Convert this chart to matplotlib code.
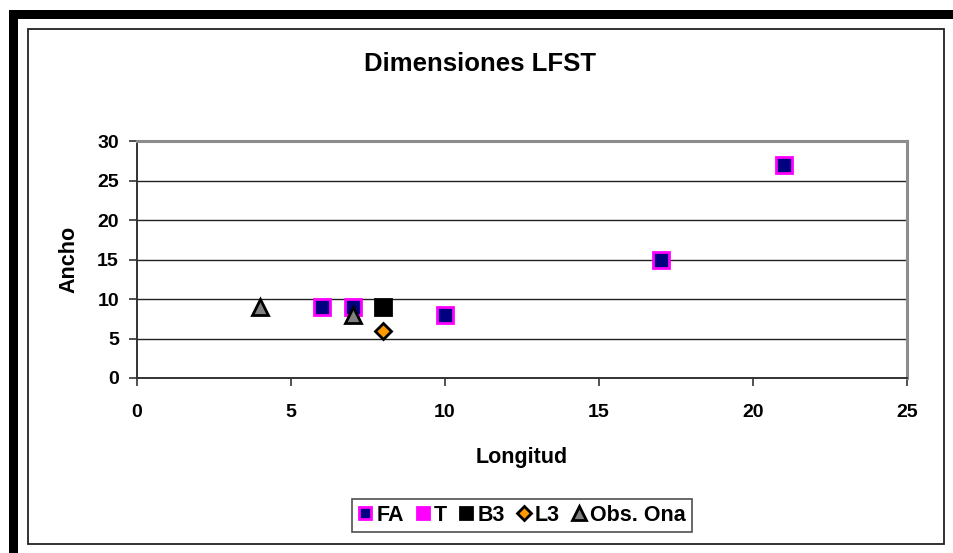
import matplotlib
matplotlib.use("Agg")
import matplotlib.pyplot as plt
from matplotlib.patches import Rectangle

plt.rcParams['font.family'] = ['Liberation Sans', 'DejaVu Sans']
plt.rcParams['font.weight'] = 'bold'

title = "Dimensiones LFST"
xlabel = "Longitud"
ylabel = "Ancho"

fa_x = [6, 7, 10, 17, 21]
fa_y = [9, 9, 8, 15, 27]
t_x = []
t_y = []
b3_x = [8]
b3_y = [9]
l3_x = [8]
l3_y = [6]
ona_x = [4, 7]
ona_y = [9, 8]

xticks = [0, 5, 10, 15, 20, 25]
yticks = [0, 5, 10, 15, 20, 25, 30]

W, H = 954, 553
fig = plt.figure(figsize=(W / 100, H / 100), dpi=100)
fig.patch.set_facecolor('white')

# outer decorations
fig.add_artist(Rectangle((9 / W, 1 - 19 / H), 1 - 9 / W, 9 / H, transform=fig.transFigure,
                         facecolor='black', edgecolor='none', zorder=0))
fig.add_artist(Rectangle((9 / W, 0), 9 / W, 1 - 10 / H, transform=fig.transFigure,
                         facecolor='black', edgecolor='none', zorder=0))
fig.add_artist(Rectangle((28.5 / W, 1 - 543.5 / H), (944 - 28.5) / W, (543.5 - 28.5) / H,
                         transform=fig.transFigure, facecolor='white', edgecolor='#222222',
                         linewidth=1.3, zorder=0))

ax = fig.add_axes([137 / W, 1 - 378 / H, (907 - 137) / W, (378 - 141) / H])
ax.set_xlim(0, 25)
ax.set_ylim(0, 30)
ax.set_xticks(xticks)
ax.set_yticks(yticks)
ax.tick_params(axis='both', direction='out', length=6, width=1.2, color='#333333',
               labelsize=14, pad=7)
ax.tick_params(axis='x', pad=13)
for lbl in ax.get_xticklabels() + ax.get_yticklabels():
    lbl.set_fontweight('bold')
ax.yaxis.grid(True, color='#222222', linewidth=1.0)
ax.set_axisbelow(True)
for s in ['top', 'right']:
    ax.spines[s].set_color('#8c8c8c')
    ax.spines[s].set_linewidth(2.2)
for s in ['left', 'bottom']:
    ax.spines[s].set_color('#333333')
    ax.spines[s].set_linewidth(1.4)

ax.plot(fa_x, fa_y, linestyle='none', marker='s', markersize=11, markerfacecolor='#000080',
        markeredgecolor='#FF00FF', markeredgewidth=2, label='FA', clip_on=False, zorder=3)
ax.plot(t_x, t_y, linestyle='none', marker='s', markersize=11, markerfacecolor='#FF00FF',
        markeredgecolor='#FF00FF', markeredgewidth=2, label='T', zorder=3)
ax.plot(b3_x, b3_y, linestyle='none', marker='s', markersize=11, markerfacecolor='black',
        markeredgecolor='black', markeredgewidth=2, label='B3', zorder=3)
ax.plot(l3_x, l3_y, linestyle='none', marker='D', markersize=8, markerfacecolor='#FF9900',
        markeredgecolor='black', markeredgewidth=2, label='L3', zorder=3)
ax.plot(ona_x, ona_y, linestyle='none', marker='^', markersize=12, markerfacecolor='#808080',
        markeredgecolor='black', markeredgewidth=2, label='Obs. Ona', zorder=3)

fig.text(480 / W, 1 - 64 / H, title, ha='center', va='center', fontsize=18.5, fontweight='bold')
fig.text(522 / W, 1 - 457 / H, xlabel, ha='center', va='center', fontsize=15.5, fontweight='bold')
fig.text(69 / W, 1 - 259 / H, ylabel, ha='center', va='center', rotation=90, fontsize=15.5,
         fontweight='bold')

leg = fig.legend(loc='center', bbox_to_anchor=(522 / W, 1 - 515.5 / H), ncol=5, fontsize=15.5,
                 frameon=True, fancybox=False, edgecolor='#222222', handlelength=0.65,
                 handletextpad=0.2, columnspacing=0.55, borderpad=0.3, markerscale=0.85)
leg.get_frame().set_linewidth(1.2)
for t in leg.get_texts():
    t.set_fontweight('bold')

fig.savefig('out.png', dpi=100)
